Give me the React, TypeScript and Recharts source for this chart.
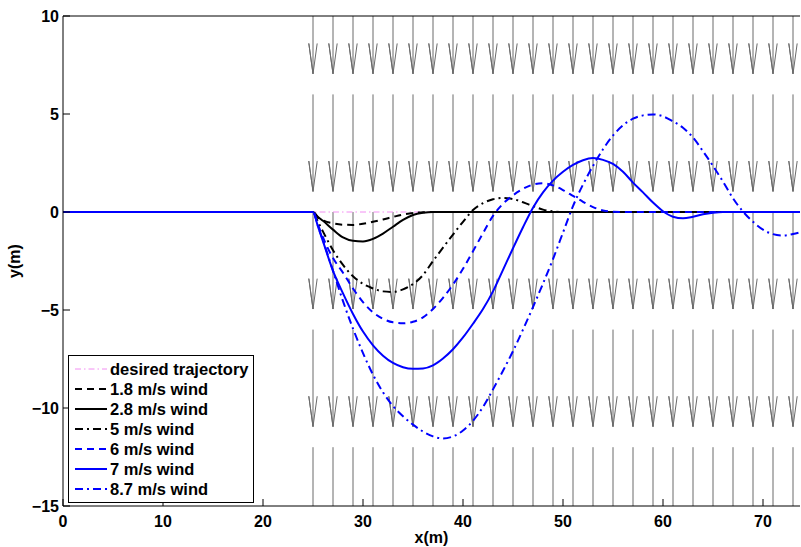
import React from 'react';
import { ComposedChart, Line, XAxis, YAxis, Legend, Label } from 'recharts';

// ---------- data ----------
const xValues = [
  0, 25, 25.5, 26, 27, 28, 29, 30, 31, 32, 33, 34, 35, 36, 37, 38, 39, 40, 41, 42, 43, 44, 45, 46, 47, 48, 49,
  50, 51, 52, 53, 54, 55, 56, 57, 58, 59, 60, 61, 62, 63, 64, 65, 66, 67, 68, 69, 70, 71, 72, 73, 74,
];

const desiredY = [
  0, 0, 0, 0, 0, 0, 0, 0, 0, 0, 0, 0, 0, 0, 0, 0, 0, 0, 0, 0, 0, 0, 0, 0, 0, 0, 0,
  0, 0, 0, 0, 0, 0, 0, 0, 0, 0, 0, 0, 0, 0, 0, 0, 0, 0, 0, 0, 0, 0, 0, 0, 0,
];

const wind18 = [
  0, 0, -0.28, -0.42, -0.58, -0.65, -0.66, -0.6, -0.5, -0.38, -0.25, -0.13, -0.05, -0.01, 0, 0, 0, 0, 0, 0, 0, 0, 0, 0, 0, 0, 0,
  0, 0, 0, 0, 0, 0, 0, 0, 0, 0, 0, 0, 0, 0, 0, 0, 0, 0, 0, 0, 0, 0, 0, 0, 0,
];

const wind28 = [
  0, 0, -0.25, -0.45, -0.9, -1.3, -1.47, -1.5, -1.37, -1.1, -0.75, -0.4, -0.15, -0.04, 0, 0, 0, 0, 0, 0, 0, 0, 0, 0, 0, 0, 0,
  0, 0, 0, 0, 0, 0, 0, 0, 0, 0, 0, 0, 0, 0, 0, 0, 0, 0, 0, 0, 0, 0, 0, 0, 0,
];

const wind5 = [
  0, 0, -0.5, -1.0, -1.95, -2.7, -3.28, -3.67, -3.9, -4.05, -4.08, -3.95, -3.68, -3.22, -2.5, -1.82, -1.15, -0.5, 0.1, 0.45,
  0.65, 0.72, 0.66, 0.5, 0.3, 0.12, 0.03,
  0, 0, 0, 0, 0, 0, 0, 0, 0, 0, 0, 0, 0, 0, 0, 0, 0, 0, 0, 0, 0, 0, 0, 0, 0,
];

const wind6 = [
  0, 0, -0.65, -1.3, -2.35, -3.1, -3.9, -4.6, -5.12, -5.45, -5.63, -5.68, -5.6, -5.38, -4.95, -4.38, -3.7, -2.9, -2.0, -1.08,
  -0.2, 0.42, 0.85, 1.18, 1.4, 1.47, 1.36,
  1.12, 0.82, 0.52, 0.25, 0.08, 0.01, 0, 0, 0, 0, 0, 0, 0, 0, 0, 0, 0, 0, 0, 0, 0, 0, 0, 0, 0,
];

const wind7 = [
  0, 0, -0.75, -1.5, -3.0, -4.15, -5.2, -6.1, -6.8, -7.33, -7.7, -7.92, -8.0, -7.98, -7.82, -7.47, -7.0, -6.4, -5.7, -4.95,
  -4.05, -2.95, -1.85, -0.78, 0.22, 1.0, 1.6,
  2.05, 2.4, 2.64, 2.75, 2.66, 2.45, 2.05, 1.5, 1.0, 0.48, 0.04, -0.24, -0.32, -0.24, -0.12, -0.04, 0, 0, 0, 0, 0, 0, 0, 0, 0,
];

const wind87 = [
  0, 0, -0.72, -1.45, -3.0, -4.55, -5.95, -7.2, -8.3, -9.2, -9.9, -10.42, -10.85, -11.2, -11.45, -11.55, -11.45, -11.15,
  -10.65, -9.95, -9.05, -8.1, -7.1, -6.0, -4.85, -3.65, -2.4,
  -1.05, 0.3, 1.4, 2.35, 3.2, 3.9, 4.42, 4.76, 4.93, 4.98, 4.88, 4.62, 4.3, 3.8, 3.1, 2.35, 1.55, 0.7, 0.02, -0.5, -0.9,
  -1.13, -1.2, -1.12, -1.0,
];

// wind field (quiver) arrows
const arrowXs = [25, 27, 29, 31, 33, 35, 37, 39, 41, 43, 45, 47, 49, 51, 53, 55, 57, 59, 61, 63, 65, 67, 69, 71, 73];
const arrowRowStarts = [12, 6, 0, -6, -12];
const ARROW_LEN = 4.95;
const HEAD_LEN = 1.55;
const HEAD_HALF = 0.42;

const xTicks = [0, 10, 20, 30, 40, 50, 60, 70];
const yTicks = [-15, -10, -5, 0, 5, 10];

// ---------- derived tables ----------
const rows = xValues.map((x, i) => ({
  x,
  desired: desiredY[i],
  w18: wind18[i],
  w28: wind28[i],
  w5: wind5[i],
  w6: wind6[i],
  w7: wind7[i],
  w87: wind87[i],
}));

const arrowData: { x: number; y: number | null }[] = [];
for (const y0 of arrowRowStarts) {
  for (const x of arrowXs) {
    const tip = y0 - ARROW_LEN;
    arrowData.push(
      { x, y: y0 },
      { x, y: tip },
      { x: x - HEAD_HALF, y: tip + HEAD_LEN },
      { x, y: tip },
      { x: x + HEAD_HALF, y: tip + HEAD_LEN },
      { x, y: null },
    );
  }
}

const DASH = '7 5';
const DASHDOT = '8 4 2 4';
const FONT = '"Liberation Sans", Arial, Helvetica, sans-serif';

const series = [
  { key: 'desired', name: 'desired trajectory', color: '#f28ef2', width: 1, dash: '6 3 1.5 3' },
  { key: 'w18', name: '1.8 m/s wind', color: '#000000', width: 2, dash: DASH },
  { key: 'w28', name: '2.8 m/s wind', color: '#000000', width: 2, dash: undefined },
  { key: 'w5', name: '5 m/s wind', color: '#000000', width: 2, dash: DASHDOT },
  { key: 'w6', name: '6 m/s wind', color: '#0000ff', width: 2, dash: DASH },
  { key: 'w7', name: '7 m/s wind', color: '#0000ff', width: 2, dash: undefined },
  { key: 'w87', name: '8.7 m/s wind', color: '#0000ff', width: 2, dash: DASHDOT },
];

const yFormat = (v: number) => (v < 0 ? `\u2212${-v}` : `${v}`);

const XTick = (props: any) => {
  const { x, y, payload } = props;
  return (
    <text
      x={x}
      y={y}
      dy={12}
      textAnchor="middle"
      fill="#000"
      fontSize={16}
      fontWeight="bold"
      fontFamily={FONT}
    >
      {payload.value}
    </text>
  );
};

const YTick = (props: any) => {
  const { x, y, payload } = props;
  return (
    <text
      x={x}
      y={y}
      dy={6}
      textAnchor="end"
      fill="#000"
      fontSize={16}
      fontWeight="bold"
      fontFamily={FONT}
    >
      {yFormat(payload.value)}
    </text>
  );
};

const renderLegend = () => (
  <div
    style={{
      width: 186,
      height: 148,
      boxSizing: 'border-box',
      border: '1px solid #000',
      background: '#fff',
      paddingTop: 3,
      fontFamily: FONT,
      fontWeight: 'bold',
      fontSize: 16.5,
      color: '#000',
    }}
  >
    {series.map((s) => (
      <div key={s.key} style={{ display: 'flex', alignItems: 'center', height: 20 }}>
        <svg width={40} height={20} style={{ flex: 'none' }}>
          <line x1={6} x2={38} y1={10} y2={10} stroke={s.color} strokeWidth={s.width} strokeDasharray={s.dash} />
        </svg>
        <span style={{ marginLeft: 1, lineHeight: '20px', whiteSpace: 'nowrap' }}>{s.name}</span>
      </div>
    ))}
  </div>
);

const YLabel = (props: any) => {
  const vb = props.viewBox || { x: 0, y: 16, width: 63, height: 490 };
  const cx = vb.x + 14;
  const cy = vb.y + vb.height / 2;
  return (
    <text
      x={cx}
      y={cy}
      transform={`rotate(-90 ${cx} ${cy})`}
      textAnchor="middle"
      dominantBaseline="central"
      fill="#000"
      fontSize={16}
      fontWeight="bold"
      fontFamily={FONT}
    >
      y(m)
    </text>
  );
};

export default function App() {
  return (
    <div style={{ position: 'absolute', left: 0, top: 0, width: 801, height: 547, background: '#fff' }}>
      <ComposedChart width={801} height={547} data={rows} margin={{ top: 15, right: 1, bottom: 0, left: 0 }}>
        <XAxis
          type="number"
          dataKey="x"
          domain={[0, 73.7]}
          allowDataOverflow
          ticks={xTicks}
          height={41}
          tickSize={-7}
          tickMargin={16}
          tick={<XTick />}
          stroke="#000"
          axisLine={{ stroke: '#000' }}
          tickLine={{ stroke: '#000' }}
        >
          <Label
            value="x(m)"
            position="insideBottom"
            offset={4}
            fill="#000"
            fontSize={16}
            fontWeight="bold"
            fontFamily={FONT}
          />
        </XAxis>
        <XAxis
          xAxisId="top"
          orientation="top"
          type="number"
          dataKey="x"
          domain={[0, 73.7]}
          allowDataOverflow
          ticks={xTicks}
          height={1}
          tickSize={-7}
          tick={false}
          stroke="#000"
        />
        <YAxis
          type="number"
          domain={[-15, 10]}
          allowDataOverflow
          ticks={yTicks}
          width={63}
          tickSize={-7}
          tickMargin={11}
          tick={<YTick />}
          stroke="#000"
        >
          <Label content={YLabel} position="insideLeft" />
        </YAxis>
        <Line
          data={arrowData}
          dataKey="y"
          type="linear"
          stroke="#6a6a6a"
          strokeWidth={1}
          dot={false}
          activeDot={false}
          legendType="none"
          isAnimationActive={false}
          connectNulls={false}
        />
        {series.map((s) => (
          <Line
            key={s.key}
            dataKey={s.key}
            name={s.name}
            type="monotone"
            stroke={s.color}
            strokeWidth={s.width}
            strokeDasharray={s.dash}
            dot={false}
            activeDot={false}
            isAnimationActive={false}
          />
        ))}
        <Legend
          layout="vertical"
          align="center"
          verticalAlign="middle"
          content={renderLegend}
          wrapperStyle={{ left: 68, top: 355, width: 186, height: 148 }}
        />
      </ComposedChart>
    </div>
  );
}
